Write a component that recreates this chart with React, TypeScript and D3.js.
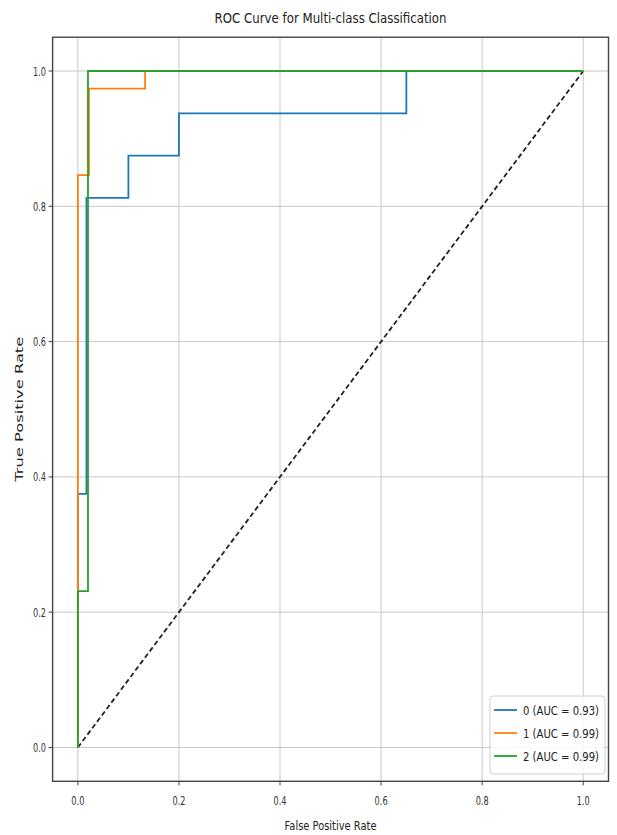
import * as d3 from "d3";

const classNames = ["0", "1", "2"];
const aucValues = [0.93, 0.99, 0.99];
const colors = ["#1f77b4", "#ff7f0e", "#2ca02c"];

const fpr0 = [0, 0, 0.017, 0.017, 0.1, 0.1, 0.2, 0.2, 0.65, 0.65, 1];
const tpr0 = [0, 0.375, 0.375, 0.8125, 0.8125, 0.875, 0.875, 0.9375, 0.9375, 1, 1];
const fpr1 = [0, 0, 0.022, 0.022, 0.133, 0.133, 1];
const tpr1 = [0, 0.846, 0.846, 0.974, 0.974, 1, 1];
const fpr2 = [0, 0, 0.02, 0.02, 1];
const tpr2 = [0, 0.231, 0.231, 1, 1];

const tickValues = [0, 0.2, 0.4, 0.6, 0.8, 1.0];

const W = 617;
const H = 835;
const left = 52.6;
const right = 608.5;
const top = 37.2;
const bottom = 781.3;

const font = "'DejaVu Sans', sans-serif";

export default function App() {
  const x = d3.scaleLinear().domain([-0.05, 1.05]).range([left, right]);
  const y = d3.scaleLinear().domain([-0.05, 1.05]).range([bottom, top]);

  const curves = [
    { fpr: fpr0, tpr: tpr0 },
    { fpr: fpr1, tpr: tpr1 },
    { fpr: fpr2, tpr: tpr2 },
  ];

  const line = d3
    .line<[number, number]>()
    .x((d) => x(d[0]))
    .y((d) => y(d[1]));

  const legendX = 490;
  const legendY = 696;

  return (
    <div style={{ position: "absolute", left: 0, top: 0 }}>
      <svg width={W} height={H} style={{ display: "block", background: "#fff" }}>
        {/* grid */}
        {tickValues.map((t) => (
          <g key={"g" + t}>
            <line x1={x(t)} x2={x(t)} y1={top} y2={bottom} stroke="#c8c8c8" strokeWidth={1} />
            <line x1={left} x2={right} y1={y(t)} y2={y(t)} stroke="#c8c8c8" strokeWidth={1} />
          </g>
        ))}

        {/* diagonal */}
        <path
          d={line([[0, 0], [1, 1]]) || ""}
          fill="none"
          stroke="#222"
          strokeWidth={1.8}
          strokeDasharray="5,3"
        />

        {curves.map((c, i) => (
          <path
            key={"c" + i}
            d={line(c.fpr.map((f, j) => [f, c.tpr[j]] as [number, number])) || ""}
            fill="none"
            stroke={colors[i]}
            strokeWidth={1.8}
          />
        ))}

        {/* frame */}
        <rect
          x={left}
          y={top}
          width={right - left}
          height={bottom - top}
          fill="none"
          stroke="#444"
          strokeWidth={1.4}
        />

        {/* x ticks */}
        {tickValues.map((t) => (
          <g key={"xt" + t}>
            <line x1={x(t)} x2={x(t)} y1={bottom} y2={bottom + 4} stroke="#444" />
            <text
              x={x(t)}
              y={805}
              textAnchor="middle"
              fontFamily={font}
              fontSize={12.5}
              fill="#333"
              textLength={13}
              lengthAdjust="spacingAndGlyphs"
            >
              {t.toFixed(1)}
            </text>
          </g>
        ))}

        {/* y ticks */}
        {tickValues.map((t) => (
          <g key={"yt" + t}>
            <line x1={left - 4} x2={left} y1={y(t)} y2={y(t)} stroke="#444" />
            <text
              x={46}
              y={y(t) + 4.5}
              textAnchor="end"
              fontFamily={font}
              fontSize={12.5}
              fill="#333"
              textLength={13}
              lengthAdjust="spacingAndGlyphs"
            >
              {t.toFixed(1)}
            </text>
          </g>
        ))}

        {/* title */}
        <text
          x={(left + right) / 2}
          y={23}
          textAnchor="middle"
          fontFamily={font}
          fontSize={14.5}
          fill="#222"
          textLength={232}
          lengthAdjust="spacingAndGlyphs"
        >
          ROC Curve for Multi-class Classification
        </text>

        {/* axis labels */}
        <text
          x={(left + right) / 2}
          y={830}
          textAnchor="middle"
          fontFamily={font}
          fontSize={12.5}
          fill="#222"
          textLength={92}
          lengthAdjust="spacingAndGlyphs"
        >
          False Positive Rate
        </text>
        <text
          transform={`translate(23,${(top + bottom) / 2}) rotate(-90)`}
          textAnchor="middle"
          fontFamily={font}
          fontSize={10}
          fill="#222"
          textLength={145}
          lengthAdjust="spacingAndGlyphs"
        >
          True Positive Rate
        </text>

        {/* legend */}
        <rect
          x={legendX}
          y={legendY}
          width={115}
          height={78}
          rx={3}
          fill="#fff"
          fillOpacity={0.85}
          stroke="#d0d0d0"
        />
        {classNames.map((name, i) => {
          const ly = 710 + i * 23;
          return (
            <g key={"l" + i}>
              <line x1={494} x2={517} y1={ly} y2={ly} stroke={colors[i]} strokeWidth={1.8} />
              <text
                x={523}
                y={ly + 4.5}
                fontFamily={font}
                fontSize={12.5}
                fill="#222"
                textLength={76}
                lengthAdjust="spacingAndGlyphs"
              >
                {`${name} (AUC = ${aucValues[i].toFixed(2)})`}
              </text>
            </g>
          );
        })}
      </svg>
    </div>
  );
}
